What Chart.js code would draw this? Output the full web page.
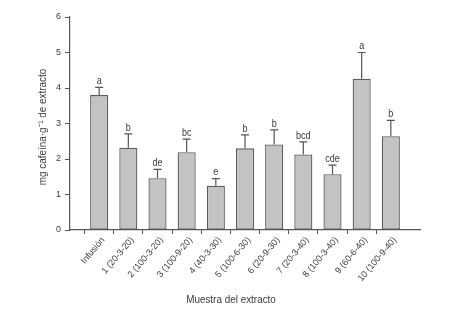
<!DOCTYPE html>
<html lang="es">
<head>
<meta charset="UTF-8" />
<title>Cafeína por muestra</title>
<script src="https://cdn.jsdelivr.net/npm/chart.js"></script>
<style>
  body { margin: 0; background: #fff; }
  #wrap { width: 460px; height: 316px; }
</style>
</head>
<body>
<div id="wrap"><canvas id="chart" width="460" height="316"></canvas></div>
<script>
  // datos
  const categories = ['Infusión', '1 (20-3-20)', '2 (100-3-20)', '3 (100-9-20)', '4 (40-3-30)',
    '5 (100-6-30)', '6 (20-9-30)', '7 (20-3-40)', '8 (100-3-40)', '9 (60-6-40)', '10 (100-9-40)'];
  const means = [3.80, 2.32, 1.46, 2.19, 1.25, 2.30, 2.41, 2.13, 1.57, 4.26, 2.64];
  const errors = [0.22, 0.39, 0.25, 0.37, 0.20, 0.38, 0.41, 0.35, 0.26, 0.74, 0.45];
  const letters = ['a', 'b', 'de', 'bc', 'e', 'b', 'b', 'bcd', 'cde', 'a', 'b'];
  const yTicks = [0, 1, 2, 3, 4, 5, 6];

  const sans = "'Liberation Sans', Arial, sans-serif";
  const textCol = '#3a3a3a';
  const axisCol = '#555';

  // una posición vacía a cada lado, como en la figura
  const labels = [''].concat(categories, ['']);
  const values = [null].concat(means, [null]);

  // texto algo condensado, como en el original
  function narrowText(ctx, txt, x, y, angle) {
    ctx.save();
    ctx.translate(x, y);
    if (angle) ctx.rotate(angle);
    ctx.scale(0.9, 1);
    ctx.fillText(txt, 0, 0);
    ctx.restore();
  }

  const extras = {
    id: 'extras',
    afterDatasetsDraw(chart) {
      const ctx = chart.ctx;
      const y = chart.scales.y;
      const meta = chart.getDatasetMeta(0);
      ctx.save();
      ctx.strokeStyle = '#555';
      ctx.lineWidth = 1.2;
      ctx.fillStyle = textCol;
      ctx.font = "10px " + sans;
      ctx.textAlign = 'center';
      ctx.textBaseline = 'bottom';
      means.forEach((m, i) => {
        const bar = meta.data[i + 1];
        const top = y.getPixelForValue(m + errors[i]);
        ctx.beginPath();
        ctx.moveTo(bar.x, bar.y);
        ctx.lineTo(bar.x, top);
        ctx.moveTo(bar.x - 4, top);
        ctx.lineTo(bar.x + 4, top);
        ctx.stroke();
        narrowText(ctx, letters[i], bar.x, top - 1);
      });

      // títulos de ejes
      ctx.font = "11px " + sans;
      ctx.textBaseline = 'middle';
      narrowText(ctx, 'Muestra del extracto', 231, 300);
      narrowText(ctx, 'mg cafeína·g⁻¹ de extracto', 43, 127, -Math.PI / 2);
      ctx.restore();
    }
  };

  new Chart(document.getElementById('chart'), {
    type: 'bar',
    data: {
      labels: labels,
      datasets: [{
        data: values,
        backgroundColor: '#c3c3c3',
        borderColor: '#5c5c5c',
        borderWidth: 1.3,
        borderSkipped: false,
        barPercentage: 0.62,
        categoryPercentage: 1.0
      }]
    },
    options: {
      responsive: false,
      animation: false,
      layout: { padding: { top: 17, right: 40, left: 0, bottom: 0 } },
      plugins: { legend: { display: false }, tooltip: { enabled: false } },
      scales: {
        x: {
          offset: false,
          afterFit(s) { s.height = 86; },
          border: { color: axisCol, width: 1.2 },
          grid: {
            drawOnChartArea: false,
            tickLength: 4,
            tickColor: (c) => (c.index === 0 || c.index === labels.length - 1) ? 'rgba(0,0,0,0)' : axisCol
          },
          ticks: {
            autoSkip: false,
            maxRotation: 50,
            minRotation: 50,
            padding: 1,
            labelOffset: 4,
            color: textCol,
            font: { family: sans, size: 9 }
          }
        },
        y: {
          min: 0,
          max: 6,
          afterFit(s) { s.width = 70; },
          afterBuildTicks(s) { s.ticks = yTicks.map(v => ({ value: v })); },
          border: { color: axisCol, width: 1.2 },
          grid: { drawOnChartArea: false, tickLength: 5, color: axisCol },
          ticks: {
            padding: 4,
            color: textCol,
            font: { family: sans, size: 9 }
          }
        }
      }
    },
    plugins: [extras]
  });
</script>
</body>
</html>
